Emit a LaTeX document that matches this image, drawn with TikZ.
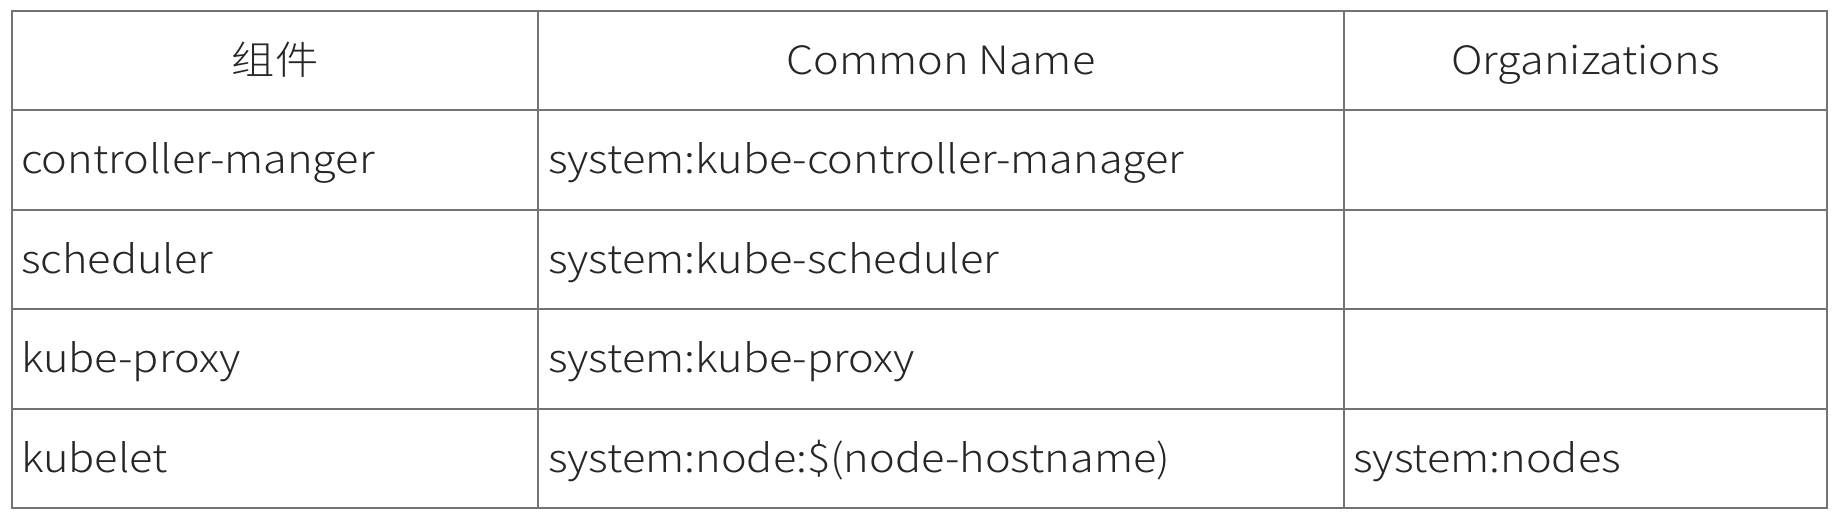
\documentclass[tikz,border=0pt]{standalone}
\usepackage{fontspec}
\setmainfont{Noto Sans CJK SC}[UprightFont=* Light,FakeStretch=1.11]
\begin{document}
\begin{tikzpicture}[x=1pt,y=-1pt,
  grid/.style={draw=black!55,line width=2pt},
  cell/.style={anchor=base west,inner sep=0pt,font=\fontsize{39}{39}\selectfont,text=black!85},
  head/.style={anchor=base,inner sep=0pt,font=\fontsize{39}{39}\selectfont,text=black!85}]
\useasboundingbox (0,0) rectangle (1835,522);
% grid
\draw[grid] (12,11) rectangle (1827,508);
\foreach \yy in {110.4,209.8,309.2,408.6} \draw[grid] (12,\yy) -- (1827,\yy);
\foreach \xx in {538,1344} \draw[grid] (\xx,11) -- (\xx,508);
% header
\node[head] (h1) at (275,74.4) {组件};
\node[head] (h2) at (941,74.4) {Common Name};
\node[head] (h3) at (1585.5,74.4) {Organizations};
% rows
\node[cell] (a1) at (21,173.8) {controller-manger};
\node[cell] (b1) at (548,173.8) {system:kube-controller-manager};
\node[cell] (a2) at (21,273.2) {scheduler};
\node[cell] (b2) at (548,273.2) {system:kube-scheduler};
\node[cell] (a3) at (21,372.6) {kube-proxy};
\node[cell] (b3) at (548,372.6) {system:kube-proxy};
\node[cell] (a4) at (21,472) {kubelet};
\node[cell] (b4) at (548,472) {system:node:\$(node-hostname)};
\node[cell] (c4) at (1353,472) {system:nodes};
\end{tikzpicture}
\end{document}
